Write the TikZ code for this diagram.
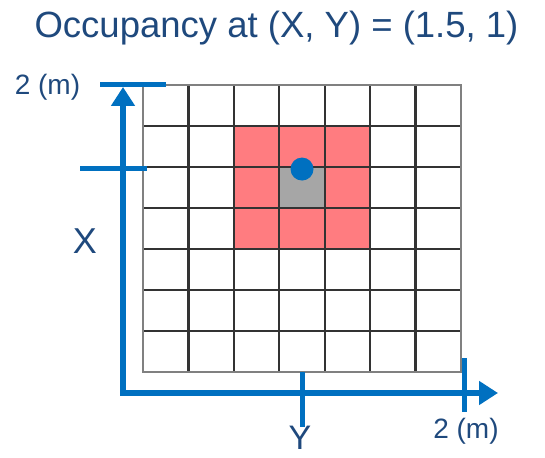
\documentclass[tikz,border=0pt]{standalone}
\usepackage{fontspec}
\setmainfont{Liberation Sans}
\usetikzlibrary{arrows.meta}
\definecolor{titleblue}{RGB}{31,73,125}
\definecolor{axisblue}{RGB}{0,112,192}
\definecolor{hitred}{RGB}{255,124,128}
\definecolor{cellgray}{RGB}{166,166,166}
\begin{document}
\begin{tikzpicture}[x=1pt, y=-1pt,
  lbl/.style={text=titleblue, inner sep=0pt, anchor=base},
  axis/.style={draw=axisblue, line width=6pt},
  tick/.style={draw=axisblue, line width=5pt}]
\useasboundingbox (0,0) rectangle (545,457);
% title
\node[lbl, font=\fontsize{36.5}{40}\selectfont] (title) at (276.5,38) {Occupancy at (X, Y) = (1.5, 1)};
% the grid: 7 x 7 cells
\begin{scope}[xshift=143pt, yshift=-85pt, x=45.43pt, y=-41pt]
\fill[hitred] (2,1) rectangle (5,4);
\fill[cellgray] (3,2) rectangle (4,3);
\foreach \i in {1,...,6} {
  \draw[black!80, line width=2.4pt] (\i,0) -- (\i,7);
  \draw[black!80, line width=2.4pt] (0,\i) -- (7,\i);
}
\draw[black!50, line width=2.6pt] (0,0) rectangle (7,7);
\fill[axisblue] (3.5,2.05) circle[radius=11.5pt];
\end{scope}
% axes
\coordinate (origin) at (123,393);
\coordinate (xend) at (123,87);
\coordinate (yend) at (498,393);
\draw[axis, -{Triangle[width=23pt, length=19pt]}] (origin) -- (xend);
\draw[axis, -{Triangle[width=23pt, length=19pt]}] ([xshift=-3pt]origin) -- (yend);
% ticks
\draw[tick] (100,85) -- (166,85);
\draw[tick] (80,168) -- (147,168);
\draw[tick] (464,358) -- (464,412);
\draw[tick] (302,372) -- (302,427);
% labels
\node[lbl, font=\fontsize{28}{32}\selectfont] (xmax) at (47.5,95) {2 (m)};
\node[lbl, font=\fontsize{36}{40}\selectfont] (xlbl) at (85,253) {X};
\node[lbl, font=\fontsize{34}{38}\selectfont] (ylbl) at (300,449) {Y};
\node[lbl, font=\fontsize{28}{32}\selectfont] (ymax) at (466,438) {2 (m)};
\end{tikzpicture}
\end{document}
